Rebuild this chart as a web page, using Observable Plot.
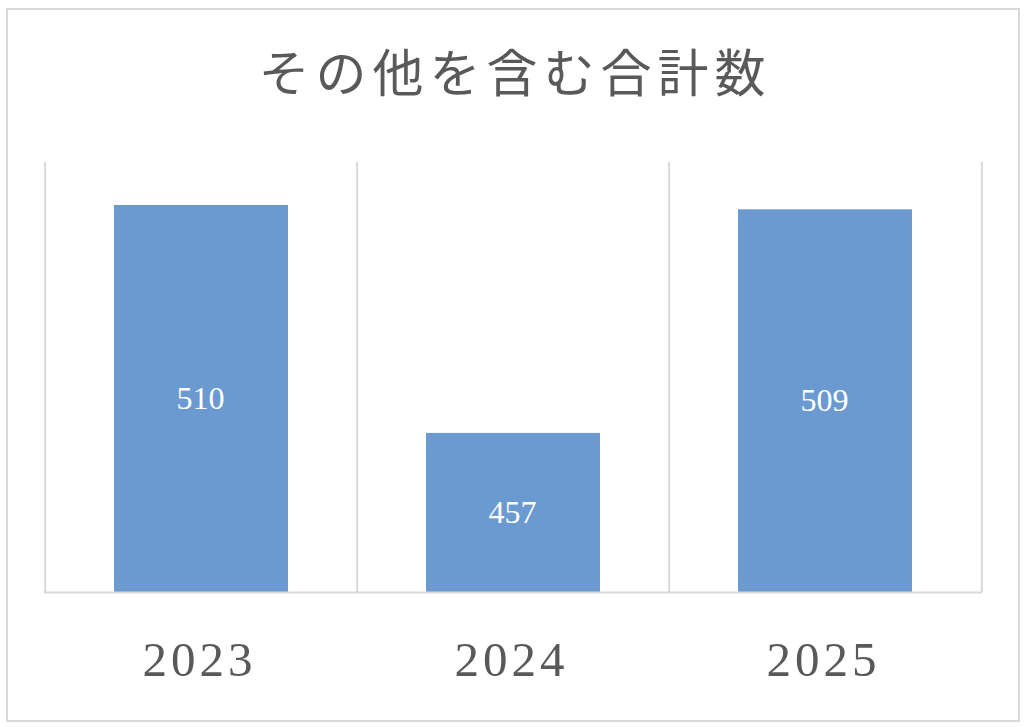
<!DOCTYPE html>
<html lang="ja">
<head>
<meta charset="utf-8">
<script src="https://cdn.jsdelivr.net/npm/d3@7"></script>
<script src="https://cdn.jsdelivr.net/npm/@observablehq/plot@0.6"></script>
<style>
  body { margin: 0; background: #fff; }
  #chart { position: relative; width: 1024px; height: 727px; overflow: hidden; background: #fff; }
  #frame { position: absolute; left: 6px; top: 8px; width: 1010px; height: 710px; border: 2px solid #d9d9d9; }
  #title {
    position: absolute; left: 0; top: 0; width: 1024px; height: 151px; line-height: 151px;
    text-align: center; padding-left: 6px; box-sizing: border-box;
    font-family: "Liberation Serif", "Noto Sans CJK JP", serif; font-size: 51px;
    letter-spacing: 6px; color: #595959; font-weight: 400;
  }
  #plot { position: absolute; left: 0; top: 120px; }
</style>
</head>
<body>
<div id="chart">
  <div id="frame"></div>
  <div id="title">その他を含む合計数</div>
  <div id="plot"></div>
</div>
<script>
// Totals per year, including "other"
const years = ["2023", "2024", "2025"];
const totals = [510, 457, 509];
// Value axis range (the baseline sits at the lower bound)
const yDomain = [420, 520];

const data = years.map((year, i) => ({year, total: totals[i]}));

const width = 1024, height = 607;
const marginLeft = 44, marginRight = 42;
const step = (width - marginLeft - marginRight) / years.length;
const gridColor = "#d9d9d9";

const chart = Plot.plot({
  width, height,
  marginTop: 42, marginBottom: 135, marginLeft, marginRight,
  x: {domain: years, padding: 0, label: null},
  y: {domain: yDomain, axis: null},
  style: {fontFamily: '"Liberation Serif", "Noto Sans CJK JP", serif', background: "transparent"},
  marks: [
    // category separators
    Plot.ruleX(years, {x: d => d, dx: -step / 2, stroke: gridColor, strokeWidth: 2}),
    Plot.ruleX(years.slice(-1), {x: d => d, dx: step / 2, stroke: gridColor, strokeWidth: 2}),
    Plot.barY(data, {x: "year", y1: yDomain[0], y2: "total", fill: "#6b9ad0", insetLeft: 69, insetRight: 69}),
    Plot.ruleY([yDomain[0]], {stroke: gridColor, strokeWidth: 2}),
    Plot.text(data, {
      x: "year", y: d => (yDomain[0] + d.total) / 2, text: d => String(d.total),
      fill: "white", fontSize: 32, dx: -1
    }),
    Plot.axisX({tickSize: 0, tickPadding: 49, fontSize: 49, fill: "#595959", dx: -2})
  ]
});

d3.select(chart).selectAll('g[aria-label="x-axis tick label"] text').attr("letter-spacing", "4px");
document.getElementById("plot").append(chart);
</script>
</body>
</html>
